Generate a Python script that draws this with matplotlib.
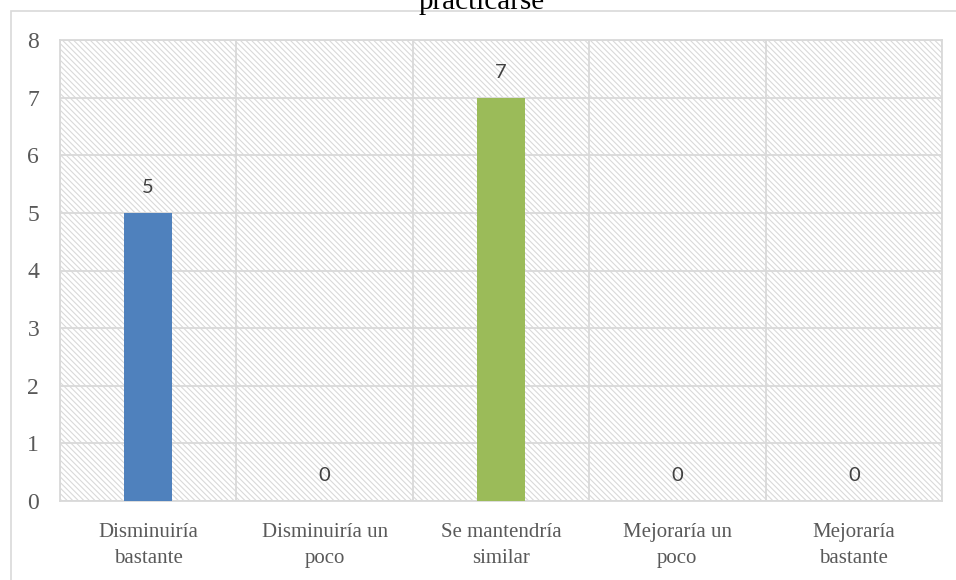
import matplotlib
matplotlib.use("Agg")
import matplotlib.pyplot as plt
import matplotlib.patches as mpatches
import numpy as np

categories = ["Disminuiría\nbastante", "Disminuiría un\npoco", "Se mantendría\nsimilar",
              "Mejoraría un\npoco", "Mejoraría\nbastante"]
values = [5, 0, 7, 0, 0]
bar_colors = ["#4F81BD", "#4F81BD", "#9BBB59", "#4F81BD", "#4F81BD"]
y_ticks = [0, 1, 2, 3, 4, 5, 6, 7, 8]
title = "practicarse"

GRID = "#D9D9D9"
TEXT = "#595959"

plt.rcParams["hatch.linewidth"] = 0.8

fig = plt.figure(figsize=(9.56, 5.8), dpi=100)
ax = fig.add_axes([60 / 956, 1 - 501 / 580, (942 - 60) / 956, (501 - 40) / 580])

# outer chart border (runs off the right and bottom edges)
fig.patches.append(mpatches.Rectangle((11 / 956, -0.1), 1.2, 1 - 11 / 580 + 0.1,
                                      transform=fig.transFigure, fill=False,
                                      edgecolor=GRID, linewidth=1.2, zorder=0))

# hatched plot background
ax.add_patch(mpatches.Rectangle((0, 0), 1, 1, transform=ax.transAxes,
                                facecolor="white", edgecolor="#D9D9D9",
                                linewidth=0, hatch="\\\\\\\\\\\\", zorder=0))

x = np.arange(len(categories))
ax.bar(x, values, width=0.27, color=bar_colors, zorder=3)

for xi, v in zip(x, values):
    ax.annotate(str(v), (xi, v), xytext=(0, 12), textcoords="offset points",
                ha="center", va="bottom", fontsize=14.5, color="#404040",
                family="Lato", zorder=4)

ax.set_xlim(-0.5, len(categories) - 0.5)
ax.set_ylim(0, 8)
ax.set_yticks(y_ticks)
ax.set_yticklabels([str(t) for t in y_ticks], family="Liberation Serif",
                   fontsize=17, color=TEXT)
ax.set_xticks(x)
ax.set_xticklabels(categories, family="Liberation Serif", fontsize=15,
                   color=TEXT, linespacing=1.55)
ax.set_xticks(np.arange(len(categories) + 1) - 0.5, minor=True)
ax.tick_params(axis="both", which="both", length=0)
ax.tick_params(axis="y", pad=15)
ax.tick_params(axis="x", pad=15.5)

ax.grid(axis="y", color=GRID, linewidth=1.3, zorder=1)
ax.grid(axis="x", which="minor", color=GRID, linewidth=1.3, zorder=1)
ax.grid(axis="x", which="major", visible=False)
ax.set_axisbelow(True)
for s in ax.spines.values():
    s.set_color(GRID)
    s.set_linewidth(1.3)

fig.text(482 / 956, 1 - 9 / 580, title, ha="center", va="baseline",
         family="Liberation Serif", fontsize=21, color="black")

fig.savefig("out.png", dpi=100)
